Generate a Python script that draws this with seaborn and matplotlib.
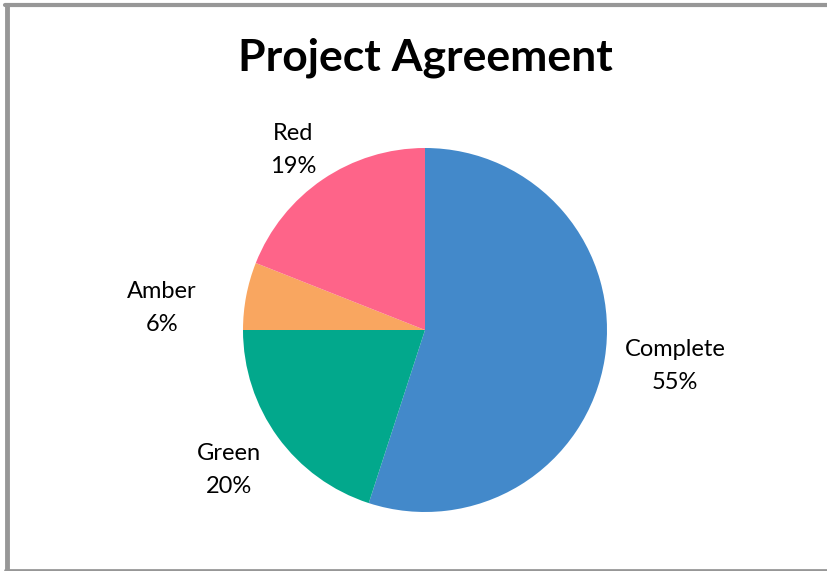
import matplotlib
matplotlib.use("Agg")
import matplotlib.pyplot as plt
from matplotlib.lines import Line2D
import seaborn as sns

# ==================== Data ====================
categories = ["Complete", "Green", "Amber", "Red"]
values = [55, 20, 6, 19]
colors = ["#4389CA", "#02A88C", "#F9A660", "#FE6489"]

# label centres in pie-radius units (Excel-style best fit placement)
label_pos = [(1.374, -0.198), (-1.077, -0.769), (-1.445, 0.121), (-0.725, 0.989)]

# ==================== Style ====================
sns.set_theme(style="white")
plt.rcParams["font.family"] = ["Lato", "DejaVu Sans"]

W, H = 828, 571
fig = plt.figure(figsize=(W / 100, H / 100), dpi=100)
fig.patch.set_facecolor("white")

# pie centre (425, 330) px from top-left, radius 182 px
cx, cy, r = 425, 330, 182
ax = fig.add_axes([(cx - r) / W, (H - cy - r) / H, 2 * r / W, 2 * r / H])

pal = sns.color_palette(colors)
total = sum(values)
labels = [f"{c}\n{round(v / total * 100)}%" for c, v in zip(categories, values)]

wedges, texts = ax.pie(values, colors=pal, startangle=90, counterclock=False,
                       labels=labels, labeldistance=1.3,
                       wedgeprops={"linewidth": 0},
                       textprops={"fontsize": 17, "color": "#000000",
                                  "ha": "center", "va": "center",
                                  "linespacing": 1.7})

for t, pos in zip(texts, label_pos):
    t.set_position(pos)
    t.set_ha("center")
    t.set_va("center")

ax.set_xlim(-1, 1)
ax.set_ylim(-1, 1)
ax.set_aspect("equal")
ax.axis("off")

fig.text(cx / W, 1 - 58 / H, "Project Agreement", ha="center", va="center",
         fontsize=32, fontweight="bold", color="#000000")

# chart frame (left, top and bottom edges visible)
gray = "#979797"
fig.add_artist(Line2D([7.5 / W, 7.5 / W], [1 - 5 / H, 1 - 570 / H],
                      color=gray, linewidth=3.5, transform=fig.transFigure))
fig.add_artist(Line2D([5 / W, 1], [1 - 5 / H, 1 - 5 / H],
                      color=gray, linewidth=3, transform=fig.transFigure))
fig.add_artist(Line2D([5 / W, 1], [1 - 570 / H, 1 - 570 / H],
                      color=gray, linewidth=2, transform=fig.transFigure))

fig.savefig("out.png", dpi=100)
